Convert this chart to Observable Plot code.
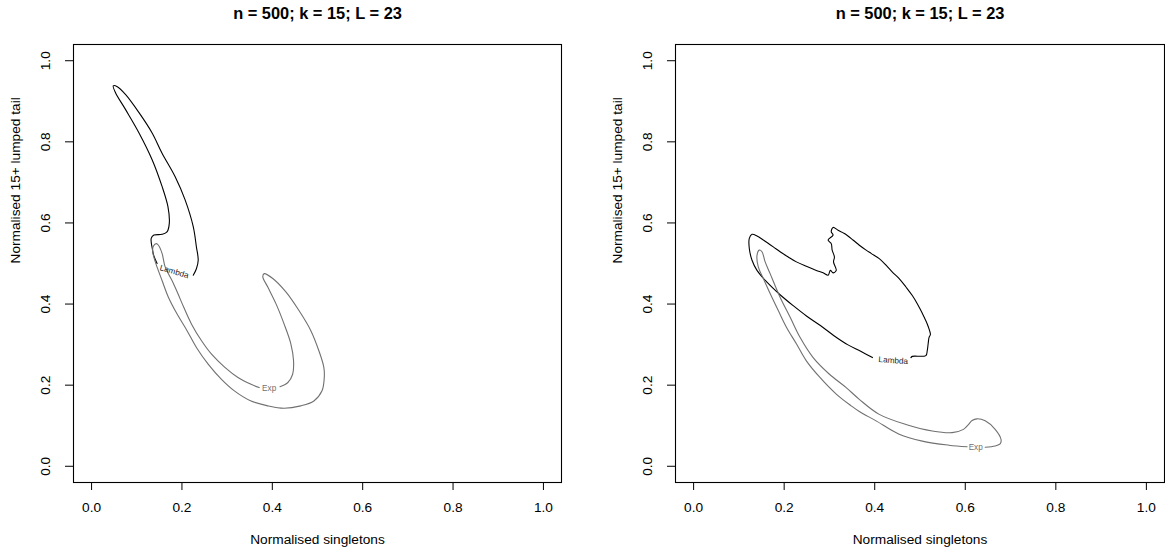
<!DOCTYPE html>
<html><head><meta charset="utf-8">
<script src="https://cdn.jsdelivr.net/npm/d3@7"></script>
<script src="https://cdn.jsdelivr.net/npm/@observablehq/plot@0.6"></script>
<style>
html,body{margin:0;padding:0;background:#fff;overflow:hidden;}
#wrap{display:flex;width:1165px;height:552px;overflow:hidden;}
#wrap svg{display:block;flex:none;}
</style></head><body><div id="wrap"></div>
<script>
const titleText = "n = 500; k = 15; L = 23";
const xLabel = "Normalised singletons";
const yLabel = "Normalised 15+ lumped tail";
const tickValues = [0, 0.2, 0.4, 0.6, 0.8, 1.0];
const contourNames = ["Lambda", "Exp"];

// Left panel, Lambda contour (open at the label gap)
const leftLambda = [[0.145,0.500],[0.137,0.522],[0.135,0.533],[0.132,0.562],[0.138,0.570],[0.156,0.572],[0.167,0.578],[0.172,0.599],[0.169,0.640],[0.156,0.690],[0.134,0.756],[0.105,0.822],[0.075,0.880],[0.053,0.921],[0.048,0.938],[0.057,0.936],[0.075,0.917],[0.105,0.872],[0.134,0.822],[0.156,0.772],[0.185,0.714],[0.207,0.657],[0.225,0.591],[0.232,0.541],[0.236,0.508],[0.232,0.487],[0.225,0.471]];
// Left panel, Exp contour
const leftExp = [[0.371,0.194],[0.353,0.202],[0.324,0.219],[0.295,0.244],[0.265,0.277],[0.243,0.310],[0.221,0.351],[0.204,0.392],[0.191,0.426],[0.178,0.458],[0.163,0.491],[0.156,0.525],[0.148,0.545],[0.143,0.549],[0.137,0.543],[0.135,0.533],[0.138,0.515],[0.145,0.491],[0.156,0.458],[0.170,0.417],[0.189,0.376],[0.211,0.335],[0.232,0.293],[0.258,0.252],[0.287,0.215],[0.316,0.186],[0.353,0.161],[0.390,0.149],[0.426,0.143],[0.463,0.149],[0.492,0.161],[0.510,0.186],[0.515,0.219],[0.514,0.244],[0.503,0.285],[0.485,0.335],[0.459,0.384],[0.430,0.430],[0.401,0.463],[0.382,0.475],[0.379,0.467],[0.390,0.442],[0.408,0.401],[0.426,0.351],[0.441,0.302],[0.447,0.260],[0.445,0.227],[0.434,0.206],[0.417,0.196]];
// Right panel, Lambda contour
const rightLambda = [[0.480,0.268],[0.483,0.271],[0.513,0.273],[0.516,0.285],[0.518,0.302],[0.520,0.318],[0.523,0.325],[0.521,0.335],[0.516,0.351],[0.509,0.368],[0.502,0.384],[0.494,0.401],[0.483,0.421],[0.469,0.442],[0.454,0.463],[0.439,0.479],[0.425,0.496],[0.410,0.512],[0.392,0.525],[0.381,0.533],[0.366,0.545],[0.352,0.558],[0.333,0.574],[0.319,0.582],[0.308,0.589],[0.304,0.578],[0.308,0.570],[0.297,0.558],[0.304,0.549],[0.306,0.533],[0.311,0.516],[0.309,0.504],[0.315,0.483],[0.308,0.477],[0.302,0.483],[0.297,0.471],[0.286,0.477],[0.271,0.483],[0.249,0.493],[0.227,0.504],[0.209,0.516],[0.191,0.529],[0.176,0.541],[0.154,0.558],[0.140,0.568],[0.129,0.572],[0.123,0.562],[0.123,0.537],[0.129,0.508],[0.140,0.483],[0.162,0.454],[0.191,0.423],[0.220,0.396],[0.250,0.370],[0.280,0.347],[0.310,0.322],[0.340,0.300],[0.368,0.284],[0.395,0.268]];
// Right panel, Exp contour
const rightExp = [[0.644,0.047],[0.666,0.050],[0.677,0.055],[0.679,0.066],[0.666,0.091],[0.644,0.112],[0.626,0.117],[0.615,0.113],[0.607,0.103],[0.596,0.091],[0.571,0.083],[0.527,0.087],[0.469,0.103],[0.410,0.128],[0.366,0.165],[0.337,0.194],[0.300,0.227],[0.264,0.268],[0.235,0.318],[0.213,0.368],[0.191,0.417],[0.169,0.475],[0.158,0.504],[0.151,0.529],[0.145,0.533],[0.140,0.520],[0.143,0.491],[0.154,0.463],[0.169,0.426],[0.187,0.384],[0.205,0.343],[0.227,0.302],[0.249,0.260],[0.279,0.219],[0.315,0.178],[0.348,0.149],[0.366,0.135],[0.403,0.112],[0.454,0.079],[0.505,0.062],[0.564,0.052],[0.604,0.048]];

// contour label anchor positions [name index, x, y]
const leftLabelPos = [[0,0.183,0.480],[1,0.393,0.192]];
const rightLabelPos = [[0,0.441,0.261],[1,0.623,0.047]];

const GRAY = "#707070";
const FONT = "'Liberation Sans', Arial, Helvetica, sans-serif";

function panel({lambda, exp, labels, rot, width, marginLeft, marginRight}) {
  const fmt = d => d.toFixed(1);
  return Plot.plot({
    width, height: 552, marginLeft, marginRight, marginTop: 44, marginBottom: 70,
    x: {domain: [-0.04, 1.04]},
    y: {domain: [-0.04, 1.04]},
    style: {fontFamily: FONT, fontSize: "13.7px", color: "black", background: "white", overflow: "visible"},
    marks: [
      Plot.frame({stroke: "black", strokeWidth: 1.1}),
      Plot.axisX({ticks: tickValues, tickFormat: fmt, tickSize: 8, tickPadding: 12, label: null, fontSize: 13.7}),
      Plot.axisY({ticks: tickValues, tickFormat: fmt, tickSize: 8, tickPadding: 16, tickRotate: -90, label: null, fontSize: 13.7}),
      Plot.line(lambda, {x: d => d[0], y: d => d[1], stroke: "black", strokeWidth: 1.1, curve: "catmull-rom"}),
      Plot.line(exp, {x: d => d[0], y: d => d[1], stroke: GRAY, strokeWidth: 1.1, curve: "catmull-rom"}),
      Plot.text(labels, {x: d => d[1], y: d => d[2], text: d => contourNames[d[0]],
        fill: d => d[0] === 0 ? "#222" : GRAY, rotate: d => rot[d[0]], fontSize: 8.2}),
      Plot.text([titleText], {text: d => d, frameAnchor: "top", dy: -37, fontWeight: "bold", fontSize: 16.4}),
      Plot.text([xLabel], {text: d => d, frameAnchor: "bottom", dy: 61, fontSize: 13.7}),
      Plot.text([yLabel], {text: d => d, frameAnchor: "left", dx: -58, rotate: -90, fontSize: 13.7})
    ]
  });
}

const wrap = document.getElementById("wrap");
wrap.appendChild(panel({lambda: leftLambda, exp: leftExp, labels: leftLabelPos, rot: [16, 0], width: 604, marginLeft: 73, marginRight: 43}));
wrap.appendChild(panel({lambda: rightLambda, exp: rightExp, labels: rightLabelPos, rot: [4, 0], width: 561, marginLeft: 71, marginRight: 1}));
</script>
</body></html>
